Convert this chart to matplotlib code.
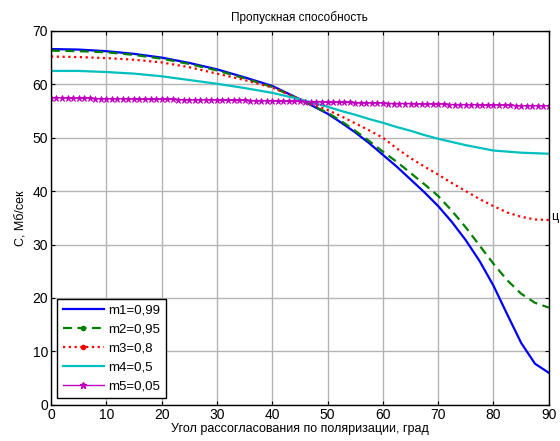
import numpy as np
import matplotlib.pyplot as plt
from matplotlib.lines import Line2D

plt.rcParams['font.family'] = ['Liberation Sans', 'DejaVu Sans']

# ── data ────────────────────────────────────────────────────────────
angle = [0, 5, 10, 15, 20, 25, 30, 35, 40, 45, 50, 52.5, 55, 57.5, 60, 62.5, 65, 67.5,
         70, 72.5, 75, 77.5, 80, 82.5, 85, 87.5, 90]
m1 = [66.6, 66.5, 66.2, 65.7, 65.0, 64.0, 62.8, 61.3, 59.7, 57.2, 54.5, 52.8, 51.0, 49.0,
      46.8, 44.6, 42.2, 39.8, 37.2, 34.2, 30.8, 26.9, 22.3, 16.9, 11.6, 7.7, 6.0]
m2 = [66.3, 66.2, 66.0, 65.5, 64.8, 63.8, 62.6, 61.1, 59.5, 57.1, 54.7, 53.1, 51.3, 49.4,
      47.4, 45.5, 43.4, 41.3, 39.1, 36.3, 33.2, 29.8, 26.4, 23.3, 20.8, 19.1, 18.2]
m3 = [65.2, 65.1, 64.9, 64.6, 64.1, 63.2, 62.0, 60.8, 59.4, 57.2, 55.2, 54.0, 52.7, 51.4,
      50.0, 48.0, 46.2, 44.6, 43.1, 41.5, 40.0, 38.5, 37.2, 36.0, 35.2, 34.7, 34.6]
m4 = [62.5, 62.5, 62.3, 62.0, 61.5, 60.8, 60.1, 59.3, 58.4, 57.2, 55.8, 55.0, 54.3, 53.5,
      52.8, 52.0, 51.3, 50.5, 49.8, 49.2, 48.6, 48.1, 47.6, 47.4, 47.2, 47.1, 47.0]

angle5 = list(range(91))
m5 = [57.5, 57.5, 57.5, 57.4, 57.4, 57.4, 57.4, 57.4, 57.3, 57.3,
      57.3, 57.3, 57.3, 57.3, 57.3, 57.2, 57.2, 57.2, 57.2, 57.2,
      57.2, 57.2, 57.2, 57.1, 57.1, 57.1, 57.1, 57.1, 57.1, 57.1,
      57.0, 57.0, 57.0, 57.0, 57.0, 57.0, 56.9, 56.9, 56.9, 56.9,
      56.9, 56.8, 56.8, 56.8, 56.8, 56.8, 56.7, 56.7, 56.7, 56.7,
      56.6, 56.6, 56.6, 56.6, 56.6, 56.5, 56.5, 56.5, 56.5, 56.5,
      56.5, 56.4, 56.4, 56.4, 56.4, 56.4, 56.3, 56.3, 56.3, 56.3,
      56.3, 56.3, 56.2, 56.2, 56.2, 56.2, 56.2, 56.2, 56.1, 56.1,
      56.1, 56.1, 56.1, 56.1, 56.0, 56.0, 56.0, 56.0, 56.0, 56.0,
      56.0]

labels = ['m1=0,99', 'm2=0,95', 'm3=0,8', 'm4=0,5', 'm5=0,05']

fig = plt.figure(figsize=(5.6, 4.41), dpi=100)
ax = fig.add_axes([0.091, 0.082, 0.889, 0.848])

ax.plot(angle, m1, color='#0000ff', lw=1.6)
ax.plot(angle, m2, color='#008000', lw=1.6, ls=(0, (4, 2.5)))
ax.plot(angle, m3, color='#ff0000', lw=1.6, ls=(0, (1, 1.6)))
ax.plot(angle, m4, color='#00bfbf', lw=1.6)
ax.plot(angle5, m5, color='#bf00bf', lw=1.0, marker='*', ms=4.5, mew=0.6)

ax.set_xlim(0, 90)
ax.set_ylim(0, 70)
ax.set_xticks(range(0, 91, 10))
ax.set_yticks(range(0, 71, 10))
ax.grid(True, color='#b4b4b4', lw=1.0)
ax.tick_params(direction='in', top=True, right=True, labelsize=10, length=3, pad=2)
for s in ax.spines.values():
    s.set_linewidth(1.0)

ax.set_title('Пропускная способность', fontsize=8.5, pad=7)
ax.set_xlabel('Угол рассогласования по поляризации, град', fontsize=9, labelpad=1)
ax.set_ylabel('C, Мб/сек', fontsize=9, labelpad=4)

handles = [
    Line2D([], [], color='#0000ff', lw=1.6),
    Line2D([], [], color='#008000', lw=1.6, ls=(0, (4, 2.5)), marker='.', ms=6),
    Line2D([], [], color='#ff0000', lw=1.6, ls=(0, (1, 1.6)), marker='.', ms=6),
    Line2D([], [], color='#00bfbf', lw=1.6),
    Line2D([], [], color='#bf00bf', lw=1.0, marker='*', ms=4.5),
]
leg = ax.legend(handles, labels, loc='lower left', bbox_to_anchor=(0.012, 0.018),
                borderaxespad=0, fontsize=9.5, fancybox=False, edgecolor='black',
                framealpha=1, handlelength=3.1, labelspacing=0.5, borderpad=0.45,
                handletextpad=0.35)
leg.get_frame().set_linewidth(1.0)

fig.text(551 / 560, 1 - 217 / 441, 'ц', fontsize=9, ha='left', va='center')

fig.savefig('out.png', dpi=100)
